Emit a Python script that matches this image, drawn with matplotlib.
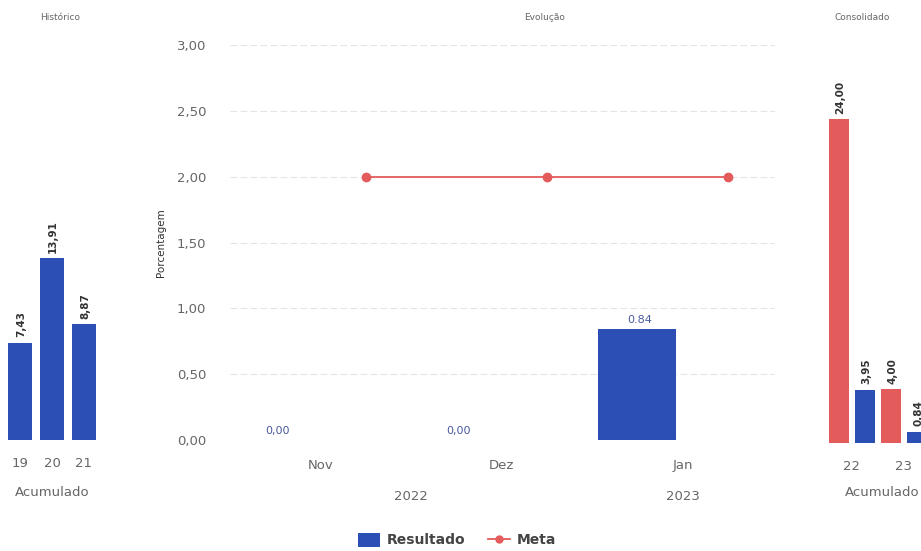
import numpy as np
import matplotlib.pyplot as plt
from matplotlib.patches import Patch
from matplotlib.lines import Line2D

# dados
hist_anos = ['19', '20', '21']
hist_valores = [7.43, 13.91, 8.87]

meses = ['Nov', 'Dez', 'Jan']
anos_meses = ['2022', '2023']
resultado = [0.00, 0.00, 0.84]
resultado_rotulos = ['0,00', '0,00', '0.84']
meta = [2.00, 2.00, 2.00]

cons_anos = ['22', '23']
cons_meta = [24.00, 4.00]
cons_resultado = [3.95, 0.84]

azul = '#2b4fb5'
vermelho = '#e35b5b'
cinza = '#666666'


def fmt(v):
    return ('%.2f' % v).replace('.', ',')


def main():
    fig = plt.figure(figsize=(9.21, 5.51), dpi=100)
    W, H = 921, 551

    def ax_px(x0, y_base, w, h):
        return fig.add_axes([x0 / W, (H - y_base) / H, w / W, h / H])

    # Histórico
    ax1 = ax_px(4, 440, 96, 393)
    x1 = np.arange(len(hist_valores))
    ax1.bar(x1, hist_valores, width=0.75, color=azul)
    for x, v in zip(x1, hist_valores):
        ax1.text(x + 0.04, v + 0.4, fmt(v), rotation=90, ha='center', va='bottom',
                 fontsize=7.5, fontweight='bold', color='#333333')
    ax1.set_xlim(-0.5, 2.5)
    ax1.set_ylim(0, 30)
    ax1.set_xticks(x1)
    ax1.set_xticklabels(hist_anos, fontsize=9.5, color=cinza)
    ax1.tick_params(axis='x', length=0, pad=12)
    ax1.set_yticks([])
    ax1.set_xlabel('Acumulado', fontsize=9.5, color=cinza, labelpad=12)
    for s in ax1.spines.values():
        s.set_visible(False)

    # Evolução
    ax2 = ax_px(230, 440, 545, 395)
    x2 = np.arange(len(meses))
    ax2.bar(x2 - 0.25, resultado, width=0.43, color=azul, zorder=2)
    for x, v, r in zip(x2, resultado, resultado_rotulos):
        ax2.text(x - 0.24, v + 0.03, r, ha='center', va='bottom', fontsize=8,
                 color='#4a5aa0', zorder=3)
    ax2.plot(x2 + 0.25, meta, color=vermelho, marker='o', markersize=6, lw=1.3, zorder=3)
    ax2.set_xlim(-0.50, 2.51)
    ax2.set_ylim(0, 3)
    yt = np.arange(0, 3.01, 0.5)
    ax2.set_yticks(yt)
    ax2.set_yticklabels([fmt(v) for v in yt], fontsize=9.5, color=cinza)
    ax2.tick_params(axis='y', length=0, pad=17)
    ax2.set_xticks(x2)
    ax2.set_xticklabels(meses, fontsize=9.5, color=cinza)
    ax2.tick_params(axis='x', length=0, pad=14)
    ax2.grid(axis='y', color='#e4e4e4', lw=0.8, ls=(0, (6, 3)), zorder=0)
    ax2.set_ylabel('Porcentagem', fontsize=7.5, color='#333333', labelpad=8)
    for s in ax2.spines.values():
        s.set_visible(False)
    # segundo nível do eixo x (anos)
    for pos, ano in zip([0.5, 2], anos_meses):
        ax2.text(pos, -0.144, ano, transform=ax2.get_xaxis_transform(),
                 ha='center', va='center', fontsize=9.5, color=cinza)

    # Consolidado
    ax3 = ax_px(822, 443, 160, 378)
    x3 = np.arange(len(cons_anos))
    ax3.bar(x3 - 0.25, cons_meta, width=0.385, color=vermelho)
    ax3.bar(x3 + 0.25, cons_resultado, width=0.385, color=azul)
    for x, v in zip(x3, cons_meta):
        ax3.text(x - 0.25 + 0.03, v + 0.4, fmt(v), rotation=90, ha='center', va='bottom',
                 fontsize=7.5, fontweight='bold', color='#333333')
    for x, v in zip(x3, cons_resultado):
        ax3.text(x + 0.25 + 0.03, v + 0.4, fmt(v), rotation=90, ha='center', va='bottom',
                 fontsize=7.5, fontweight='bold', color='#333333')
    ax3.set_xlim(-0.57, 2.5)
    ax3.set_ylim(0, 28)
    ax3.set_xticks(x3)
    ax3.set_xticklabels(cons_anos, fontsize=9.5, color=cinza)
    ax3.tick_params(axis='x', length=0, pad=12)
    ax3.set_yticks([])
    for s in ax3.spines.values():
        s.set_visible(False)
    fig.text(882 / W, 1 - 492 / H, 'Acumulado', fontsize=9.5, color=cinza,
             ha='center', va='center')

    # títulos
    fig.text(60 / W, 1 - 18 / H, 'Histórico', fontsize=6.5, color=cinza, ha='center', va='center')
    fig.text(545 / W, 1 - 18 / H, 'Evolução', fontsize=6.5, color=cinza, ha='center', va='center')
    fig.text(862 / W, 1 - 18 / H, 'Consolidado', fontsize=6.5, color=cinza, ha='center', va='center')

    # legenda
    handles = [Patch(facecolor=azul, label='Resultado'),
               Line2D([], [], color=vermelho, marker='o', markersize=5, lw=1.3, label='Meta')]
    leg = fig.legend(handles=handles, loc='center', bbox_to_anchor=(457 / W, 1 - 540 / H),
                     ncol=2, frameon=False, handlelength=1.6, handleheight=1.2,
                     columnspacing=1.6, handletextpad=0.5,
                     prop={'size': 10, 'weight': 'semibold'})
    for t in leg.get_texts():
        t.set_color('#444444')

    fig.savefig('out.png', dpi=100)


main()
